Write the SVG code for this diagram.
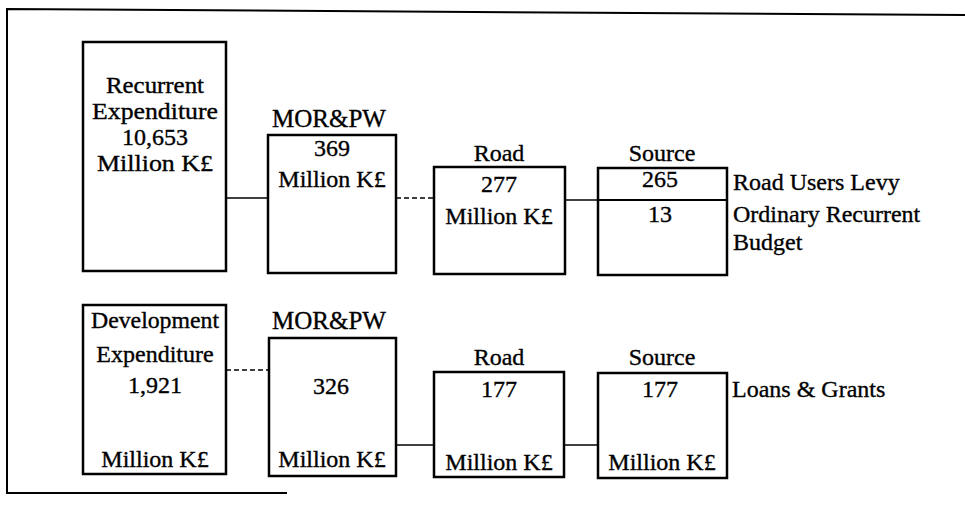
<svg xmlns="http://www.w3.org/2000/svg" width="965" height="509" viewBox="0 0 965 509">
<style>
.box{fill:#fff;stroke:#000;stroke-width:2.5}
.t{font-family:"Liberation Serif","Times New Roman",serif;font-size:24px;fill:#000;stroke:#000;stroke-width:0.35;text-anchor:middle}
.big{font-size:23px}
.lbl{font-size:25px}
.lft{text-anchor:start}
.c{stroke:#000;stroke-width:1.4;fill:none}
.d{stroke-dasharray:5 3}
.frame{stroke:#000;stroke-width:2;fill:none}
</style>
<rect width="965" height="509" fill="#fff"/>
<g id="frame">
<polyline class="frame" points="965,15 7,9 7,493 287,493"/>
</g>
<g id="connectors">
<line class="c" x1="226" y1="198" x2="268" y2="198"/>
<line class="c d" x1="396" y1="198" x2="434" y2="198"/>
<line class="c" x1="565" y1="200" x2="598" y2="200"/>
<line class="c d" x1="226" y1="370" x2="269" y2="370"/>
<line class="c" x1="396" y1="445" x2="434" y2="445"/>
<line class="c" x1="564" y1="445" x2="598" y2="445"/>
</g>
<g id="recurrent">
<rect class="box" x="83" y="42" width="143" height="229"/>
<text class="t big" x="155" y="93" textLength="98" lengthAdjust="spacingAndGlyphs">Recurrent</text>
<text class="t big" x="155" y="119" textLength="126" lengthAdjust="spacingAndGlyphs">Expenditure</text>
<text class="t big" x="155" y="145" textLength="66" lengthAdjust="spacingAndGlyphs">10,653</text>
<text class="t big" x="155" y="171" textLength="116" lengthAdjust="spacingAndGlyphs">Million K£</text>
</g>
<g id="morpw1">
<text class="t lbl" x="329" y="127">MOR&amp;PW</text>
<rect class="box" x="268" y="135" width="128" height="138"/>
<text class="t" x="332" y="156">369</text>
<text class="t" x="332" y="187">Million K£</text>
</g>
<g id="road1">
<text class="t" x="499" y="161">Road</text>
<rect class="box" x="434" y="167" width="131" height="107"/>
<text class="t" x="499" y="192">277</text>
<text class="t" x="499" y="224">Million K£</text>
</g>
<g id="source1">
<text class="t" x="662" y="161">Source</text>
<rect class="box" x="598" y="168" width="129" height="107"/>
<line x1="598" y1="200" x2="727" y2="200" stroke="#000" stroke-width="2"/>
<text class="t" x="660" y="187">265</text>
<text class="t" x="660" y="222">13</text>
<text class="t lft" x="733" y="190">Road Users Levy</text>
<text class="t lft" x="733" y="222">Ordinary Recurrent</text>
<text class="t lft" x="733" y="250">Budget</text>
</g>
<g id="development">
<rect class="box" x="83" y="305" width="143" height="169"/>
<text class="t" x="155" y="328" font-size="20" textLength="128" lengthAdjust="spacingAndGlyphs">Development</text>
<text class="t" x="155" y="362">Expenditure</text>
<text class="t" x="155" y="393">1,921</text>
<text class="t" x="155" y="467">Million K£</text>
</g>
<g id="morpw2">
<text class="t lbl" x="329" y="329">MOR&amp;PW</text>
<rect class="box" x="269" y="338" width="127" height="138"/>
<text class="t" x="331" y="394">326</text>
<text class="t" x="332" y="467">Million K£</text>
</g>
<g id="road2">
<text class="t" x="499" y="365">Road</text>
<rect class="box" x="434" y="372" width="130" height="105"/>
<text class="t" x="499" y="397">177</text>
<text class="t" x="499" y="470">Million K£</text>
</g>
<g id="source2">
<text class="t" x="662" y="365">Source</text>
<rect class="box" x="598" y="373" width="129" height="105"/>
<text class="t" x="660" y="397">177</text>
<text class="t" x="662" y="470">Million K£</text>
<text class="t lft" x="732" y="397">Loans &amp; Grants</text>
</g>
</svg>
